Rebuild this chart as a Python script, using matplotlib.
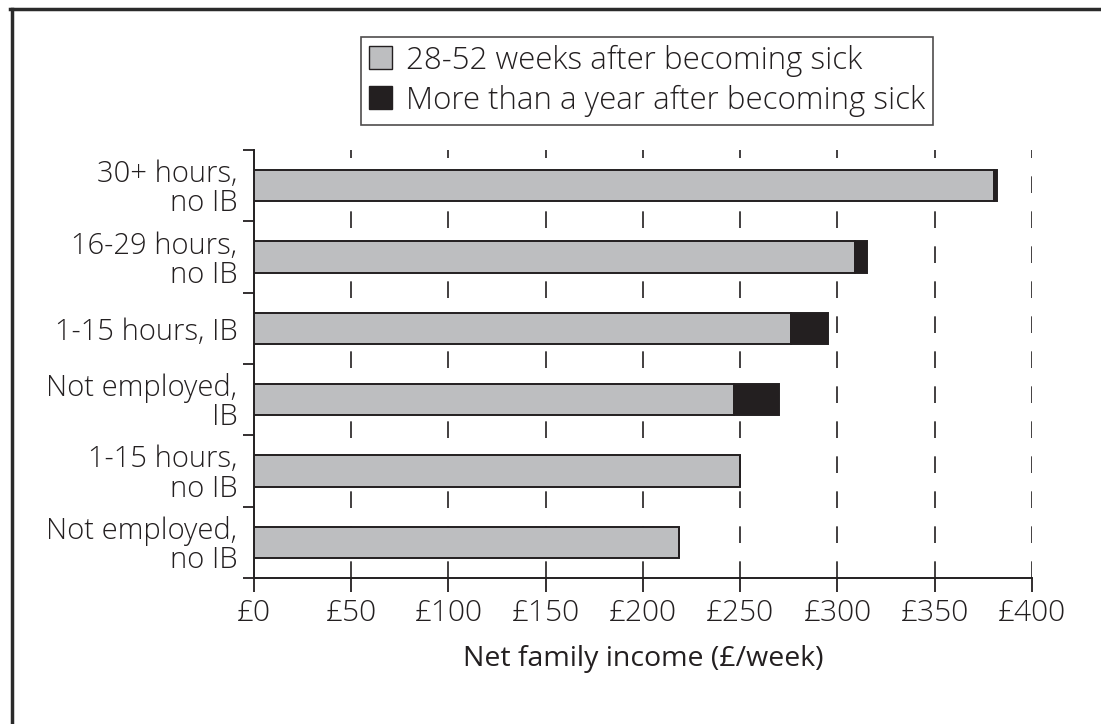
import matplotlib
import matplotlib.pyplot as plt
from matplotlib.lines import Line2D
from matplotlib.patches import Patch

matplotlib.use("Agg")

categories = [
    "30+ hours,\nno IB",
    "16-29 hours,\nno IB",
    "1-15 hours, IB",
    "Not employed,\nIB",
    "1-15 hours,\nno IB",
    "Not employed,\nno IB",
]
weeks_28_52 = [380.5, 309, 276, 247, 250, 218.5]
over_a_year = [1.3, 6, 19, 23, 0, 0]
xticks = [0, 50, 100, 150, 200, 250, 300, 350, 400]
xtick_labels = [f"£{v}" for v in xticks]
legend_labels = ["28-52 weeks after becoming sick",
                 "More than a year after becoming sick"]

GREY = "#bdbec0"
DARK = "#231f20"


def main():
    plt.rcParams["font.family"] = ["Open Sans", "DejaVu Sans"]
    plt.rcParams["font.weight"] = "light"
    fig = plt.figure(figsize=(11.01, 7.24), dpi=100)
    ax = fig.add_axes([0.2307, 0.2017, 0.7066, 0.5911])

    ypos = list(range(len(categories)))
    ax.barh(ypos, weeks_28_52, height=0.44, color=GREY,
            edgecolor=DARK, linewidth=1.4, zorder=3)
    ax.barh(ypos, over_a_year, left=weeks_28_52, height=0.44, color=DARK,
            edgecolor=DARK, linewidth=1.4, zorder=3)

    ax.set_ylim(5.5, -0.5)
    ax.set_xlim(0, 400)
    ax.set_yticks([i - 0.5 for i in range(len(categories) + 1)])
    ax.set_yticklabels([])
    ax.set_yticks(ypos, minor=True)
    ax.set_yticklabels(categories, minor=True, fontsize=21,
                       linespacing=0.98, color=DARK)
    ax.tick_params(axis="y", which="major", direction="out", length=8,
                   width=1.3, color=DARK)
    ax.tick_params(axis="y", which="minor", length=0, pad=12)
    ax.set_xticks(xticks)
    ax.set_xticklabels(xtick_labels, fontsize=21.5, color=DARK)
    ax.tick_params(axis="x", direction="out", length=10, width=1.3,
                   color=DARK, pad=5)

    for x in xticks[1:]:
        ax.axvline(x, color=DARK, linestyle=(0, (10, 11)), linewidth=1.2,
                   zorder=1)

    for side in ["top", "right"]:
        ax.spines[side].set_visible(False)
    for side in ["left", "bottom"]:
        ax.spines[side].set_color(DARK)
        ax.spines[side].set_linewidth(1.4)

    ax.set_xlabel("Net family income (£/week)", fontsize=20.5, color=DARK,
                  labelpad=12, fontweight="normal")

    handles = [Patch(facecolor=GREY, edgecolor=DARK, linewidth=1.0),
               Patch(facecolor=DARK, edgecolor=DARK, linewidth=1.0)]
    leg = fig.legend(handles, legend_labels, loc="upper center",
                     bbox_to_anchor=(0.5875, 0.949), fontsize=22.5,
                     frameon=True, fancybox=False, edgecolor=DARK,
                     handlelength=0.75, handleheight=0.75,
                     handletextpad=0.45, borderpad=0.25, labelspacing=0.25,
                     borderaxespad=0)
    leg.get_frame().set_linewidth(1.2)
    for t in leg.get_texts():
        t.set_color(DARK)

    # outer frame (only left and top edges are visible in the crop)
    fig.add_artist(Line2D([0.0105, 0.0105], [0.0, 0.987],
                          transform=fig.transFigure, color="#2a2a2a",
                          linewidth=2.5))
    fig.add_artist(Line2D([0.0095, 1.0], [0.987, 0.987],
                          transform=fig.transFigure, color="#2a2a2a",
                          linewidth=2.5))

    fig.savefig("out.png", dpi=100)


if __name__ == "__main__":
    main()
